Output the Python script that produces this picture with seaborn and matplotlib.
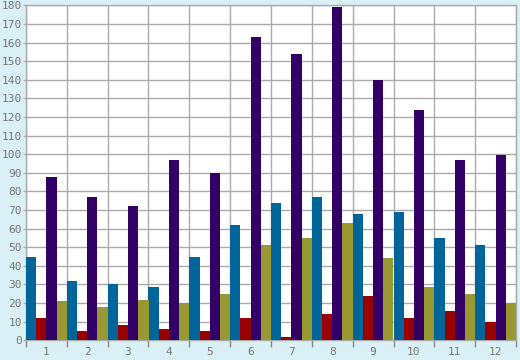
import matplotlib
matplotlib.use("Agg")
import matplotlib.pyplot as plt
from matplotlib.ticker import FixedLocator, MultipleLocator
import numpy as np
import pandas as pd
import seaborn as sns

groups = [str(i) for i in range(1, 13)]
series = ["A", "B", "C", "D"]
blue = [44.5, 32, 30, 28.5, 45, 62, 74, 77, 68, 69, 55, 51]
red = [12, 5, 8, 6, 5, 12, 2, 14, 24, 12, 16, 10]
purple = [88, 77, 72, 97, 90, 163, 154, 179, 140, 124, 97, 99.5]
olive = [21, 18, 21.5, 20, 25, 51, 55, 63, 44, 28.5, 25, 20]
colours = ["#006699", "#990000", "#330066", "#999933"]

df = pd.DataFrame({
    "group": groups * 4,
    "series": np.repeat(series, len(groups)),
    "value": blue + red + purple + olive,
})

sns.set_theme(style="white")
plt.rcParams["font.family"] = ["DejaVu Sans Mono"]

fig = plt.figure(figsize=(5.2, 3.6), dpi=100, facecolor="#daf0f7")
ax = fig.add_axes([26 / 520, 19.7 / 360, 490 / 520, 335 / 360])
ax.set_facecolor("white")

sns.barplot(data=df, x="group", y="value", hue="series", palette=colours,
            width=1.0, gap=0, saturation=1, legend=False, ax=ax, zorder=3)
for p in ax.patches:
    p.set_linewidth(0)

ax.set_xlim(-0.5, len(groups) - 0.5)
ax.set_ylim(0, 180)
ax.yaxis.set_major_locator(MultipleLocator(10))
ax.xaxis.set_minor_locator(FixedLocator(np.arange(-0.5, len(groups), 1.0)))
ax.grid(True, which="major", axis="y", color="#aaaaaa", lw=1, zorder=0)
ax.grid(True, which="minor", axis="x", color="#aaaaaa", lw=1, zorder=0)
ax.set_axisbelow(True)
ax.tick_params(axis="x", which="major", length=0, pad=4.5, labelsize=8, labelcolor="#777777")
ax.tick_params(axis="x", which="minor", length=5, width=1, color="#888888", bottom=True)
ax.tick_params(axis="y", which="major", length=2, width=1, color="#aaaaaa", pad=1,
               labelsize=8, labelcolor="#777777", left=True)
for s in ax.spines.values():
    s.set_color("#aaaaaa")
    s.set_linewidth(1)
ax.set_xlabel("")
ax.set_ylabel("")

fig.savefig("out.png", dpi=100, facecolor=fig.get_facecolor())
